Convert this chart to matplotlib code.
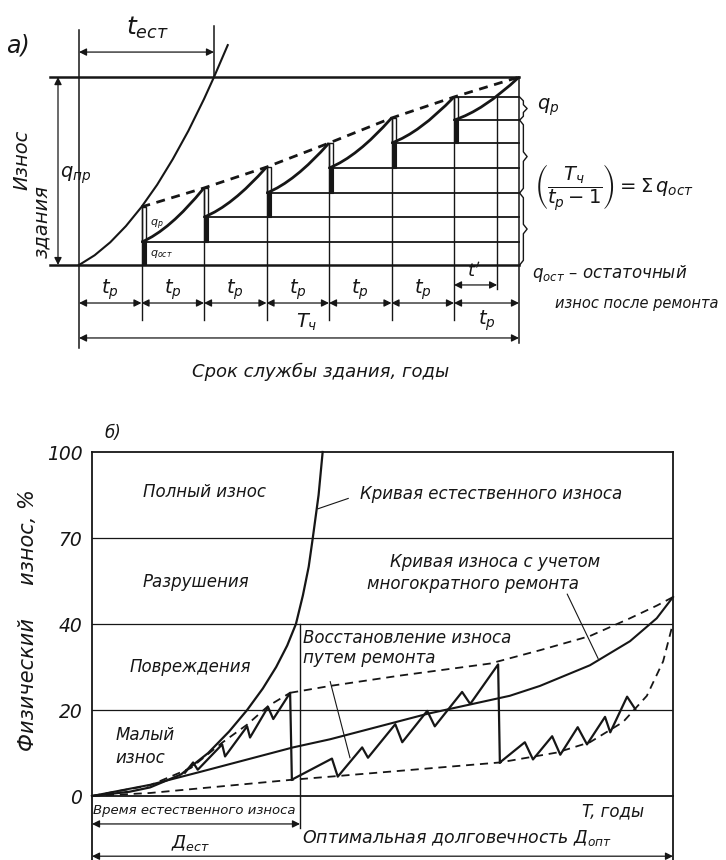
import numpy as np
import matplotlib
matplotlib.use("Agg")
import matplotlib.pyplot as plt
from matplotlib.patches import PathPatch, Rectangle
from matplotlib.path import Path

plt.rcParams['font.family'] = ['DejaVu Sans']
plt.rcParams['mathtext.fontset'] = 'dejavusans'
INK = '#161616'
TXT = dict(family=['DejaVu Sans'], style='oblique', color=INK)

# ---------- panel a: time in units of t_p, wear in % of q_пр ----------
REPAIR_T = [1, 2, 3, 4, 5, 6]
T_END = 7.04
T_PRIME = 6.69
T_EST = 2.16
LEVELS = [0, 12.2, 25.5, 38.3, 51.6, 64.9, 77.1]      # residual wear after each repair
PEAKS = [30.9, 41.0, 52.1, 64.9, 78.2, 89.4, 100.0]    # wear just before repair
CTRL_T = [1.45, 2.45, 3.45, 4.45, 5.45, 6.47]          # shape of the wear curve between repairs
CTRL_Q = [18.5, 31.4, 44.2, 57.5, 70.3, 82.1]
NAT_A_T = [0, 0.25, 0.5, 0.75, 1.0, 1.25, 1.5, 1.75, 2.0, 2.16, 2.38]
NAT_A_Q = [0, 5.2, 12.1, 20.7, 30.9, 42.7, 56.3, 71.4, 88.3, 100, 117]

# ---------- panel b: T in % of Д_опт, wear in % ----------
NAT_T = [0, 6.5, 10, 15.3, 20.0, 23.6, 26.7, 29.4, 31.7, 33.6, 35.1, 36.3, 37.3, 38.0, 39.0, 39.7]
NAT_W = [0, 1, 2, 5, 10, 15, 20, 25, 30, 35, 40, 50, 60, 70, 85, 100]
REP_T = [0, 10, 18.6, 34.6, 41.0, 57.7, 71.9, 77.1, 85.7, 92.6, 97.2, 100]
REP_W = [0, 2.6, 5.6, 11.3, 13.2, 19.1, 23.3, 25.6, 30.4, 36.0, 42.0, 49.4]
FIRST_T = [0, 10, 17, 22.4, 26.7, 30.3, 34.1]
FIRST_W = [0, 2.5, 6.5, 12.4, 16.6, 20.9, 24.0]
UP_T = [34.1, 41.0, 53.0, 68.5, 77.1, 85.7, 92.6, 97.2, 100]
UP_W = [24.0, 25.6, 28.0, 30.8, 33.9, 37.2, 42.0, 46.4, 49.4]
LOW_T = [0, 10, 34.6, 41.0, 70.2, 80.0, 85.7, 91.4, 95.5, 98.3, 100]
LOW_W = [0, 0.7, 3.8, 4.5, 7.8, 10.1, 12.5, 17.2, 23.3, 31.3, 40.3]
ZIG1_T = [16.0, 17.4, 18.2, 22.4, 22.9, 26.7, 27.2, 30.3, 31.2, 34.1, 34.4]
ZIG1_W = [5.4, 7.8, 6.1, 12.0, 9.2, 16.2, 13.6, 20.7, 17.9, 24.0, 3.8]
ZIG2_T = [34.4, 41.3, 42.3, 46.5, 47.5, 52.2, 53.4, 57.7, 59.0, 63.7, 65.1, 69.9, 70.2]
ZIG2_W = [3.8, 8.7, 4.5, 11.3, 8.9, 16.7, 12.5, 19.8, 16.2, 24.2, 21.4, 30.6, 7.8]
ZIG3_T = [70.2, 74.5, 75.9, 79.2, 80.6, 83.6, 85.2, 88.3, 89.2, 92.1, 93.5]
ZIG3_W = [7.8, 12.5, 8.5, 13.9, 9.6, 16.0, 12.0, 18.4, 14.8, 23.1, 20.2]
U_EST = 35.8
Y_TICKS = [0, 20, 40, 70, 100]
ZONES = ['Малый\nизнос', 'Повреждения', 'Разрушения', 'Полный износ']


def dim(ax, x0, x1, y, vertical=False):
    a, b = ((y, x0), (y, x1)) if vertical else ((x0, y), (x1, y))
    ax.annotate('', xy=b, xytext=a, annotation_clip=False,
                arrowprops=dict(arrowstyle='<|-|>', color=INK, lw=0.9,
                                mutation_scale=11, shrinkA=0, shrinkB=0))


def brace(ax, x, q0, q1, w=0.06):
    qm = (q0 + q1) / 2
    d = min(2.5, (q1 - q0) / 6)
    ax.plot([x, x + w, x + w, x + 2 * w, x + w, x + w, x],
            [q0, q0 + d, qm - d, qm, qm + d, q1 - d, q1], color=INK, lw=1)


fig = plt.figure(figsize=(7.26, 8.6), dpi=100)

# ======================= panel a =======================
ax = fig.add_axes([0, 1 - 400 / 860, 1, 400 / 860])
ax.set_xlim(-1.264, 10.352)
ax.set_ylim(-71.8, 141.0)
ax.axis('off')

ax.plot([-0.46, T_END], [100, 100], color=INK, lw=1.8)
ax.plot([-0.46, T_END], [0, 0], color=INK, lw=1.8)
ax.plot([0, 0], [-44, 125], color=INK, lw=1.1)
ax.plot([T_END, T_END], [-41.5, 100], color=INK, lw=1.1)
ax.plot([T_EST, T_EST], [100, 127], color=INK, lw=1.1)
ax.plot(NAT_A_T, NAT_A_Q, color=INK, lw=1.5)

ends = REPAIR_T[1:] + [T_END]
for i, t in enumerate(REPAIR_T):
    path = Path([(t, LEVELS[i + 1]), (CTRL_T[i], CTRL_Q[i]), (ends[i], PEAKS[i + 1])],
                [Path.MOVETO, Path.CURVE3, Path.CURVE3])
    ax.add_patch(PathPatch(path, fill=False, lw=2.0, ec=INK))
    ax.plot([t, t], [-29.3, PEAKS[i]], color=INK, lw=1.0)
    ax.add_patch(Rectangle((t, LEVELS[i]), 0.07, LEVELS[i + 1] - LEVELS[i], fc=INK, ec=INK, lw=0.8))
    ax.add_patch(Rectangle((t, LEVELS[i + 1]), 0.07, PEAKS[i] - LEVELS[i + 1], fill=False, ec=INK, lw=1.0))
    ax.plot([t, T_END], [LEVELS[i + 1]] * 2, color=INK, lw=1.3)
ax.plot([REPAIR_T[-1], T_END], [PEAKS[-2]] * 2, color=INK, lw=1.3)
ax.plot(REPAIR_T + [T_END], PEAKS, color=INK, lw=2.0, ls=(0, (3.2, 2.4)))
ax.plot([T_PRIME, T_PRIME], [-13, PEAKS[-2]], color=INK, lw=1.0)

# dimension lines
for a, b in zip([0] + REPAIR_T, REPAIR_T + [T_END]):
    dim(ax, a, b, -20.2)
for i in range(6):
    ax.text(i + 0.5, -13.3, r'$t_р$', fontsize=14, ha='center', va='center', color=INK)
ax.text(6.52, -29.5, r'$t_р$', fontsize=14, ha='center', va='center', color=INK)
dim(ax, REPAIR_T[-1], T_PRIME, -10.6)
ax.text(6.32, -3.2, r"$t'$", fontsize=13, ha='center', va='center', color=INK)
ax.text(3.65, -30.5, r'$T_ч$', fontsize=14, ha='center', va='center', color=INK)
dim(ax, 0, T_END, -38.8)
ax.text(3.86, -57, 'Срок службы здания, годы', fontsize=13, ha='center', va='center', **TXT)

dim(ax, 0, T_EST, 113.3)
ax.text(1.1, 126, r'$t_{ест}$', fontsize=18, ha='center', va='center', color=INK)
dim(ax, 0, 100, -0.336, vertical=True)
ax.text(-0.31, 48, r'$q_{пр}$', fontsize=14, ha='left', va='center', color=INK)
ax.text(-0.98, 117, 'а)', fontsize=17, ha='center', va='center', **TXT)
ax.text(-0.91, 56, 'Износ', fontsize=14, rotation=90, ha='center', va='center', **TXT)
ax.text(-0.59, 23, 'здания', fontsize=14, rotation=90, ha='center', va='center', **TXT)
ax.text(1.13, 21.5, r'$q_р$', fontsize=8, ha='left', va='center', color=INK)
ax.text(1.13, 6, r'$q_{ост}$', fontsize=8, ha='left', va='center', color=INK)

brace(ax, T_END + 0.01, LEVELS[-1], PEAKS[-2])
brace(ax, T_END + 0.01, LEVELS[3], LEVELS[-1])
brace(ax, T_END + 0.01, LEVELS[0], LEVELS[3])
ax.text(7.33, 84, r'$q_р$', fontsize=14, ha='left', va='center', color=INK)
ax.text(7.28, 41, r'$\left(\dfrac{T_ч}{t_р-1}\right)=\Sigma\,q_{ост}$', fontsize=14,
        ha='left', va='center', color=INK)
ax.text(7.25, -4.5, r'$q_{ост}$' + ' – остаточный', fontsize=12, ha='left', va='center', **TXT)
ax.text(7.62, -20.5, 'износ после ремонта', fontsize=10.5, ha='left', va='center', **TXT)

# ======================= panel b =======================
BAND_P = [-100, 0, 20, 40, 70, 100, 200]
BAND_B = [-5, 0, 1, 2, 3, 4, 7.3333]


def fwd(v):
    return np.interp(v, BAND_P, BAND_B)


def inv(b):
    return np.interp(b, BAND_B, BAND_P)


axb = fig.add_axes([92 / 726, 1 - 796 / 860, 581 / 726, 344 / 860])
axb.set_yscale('function', functions=(fwd, inv))
axb.set_xlim(0, 100)
axb.set_ylim(0, 100)
for s in axb.spines.values():
    s.set_linewidth(1.3)
    s.set_color(INK)
axb.set_xticks([])
axb.set_yticks(Y_TICKS)
axb.set_yticklabels([str(v) for v in Y_TICKS], fontsize=13.5, **TXT)
axb.tick_params(axis='y', length=0, pad=7)
for v in Y_TICKS[1:-1]:
    axb.axhline(v, color=INK, lw=0.9)

axb.plot(NAT_T, NAT_W, color=INK, lw=1.6, clip_on=False)
axb.plot(REP_T, REP_W, color=INK, lw=1.5, clip_on=False)
dash = dict(color=INK, lw=1.3, ls=(0, (4.5, 3.2)), clip_on=False)
axb.plot(FIRST_T, FIRST_W, **dash)
axb.plot(UP_T, UP_W, **dash)
axb.plot(LOW_T, LOW_W, **dash)
for zt, zw in [(ZIG1_T, ZIG1_W), (ZIG2_T, ZIG2_W), (ZIG3_T, ZIG3_W)]:
    axb.plot(zt, zw, color=INK, lw=1.6, clip_on=False)

axb.plot([U_EST, U_EST], [-7.4, 40], color=INK, lw=1.0, clip_on=False)
axb.plot([0, 0], [-14.9, 0], color=INK, lw=1.3, clip_on=False)
axb.plot([100, 100], [-14.9, 0], color=INK, lw=1.3, clip_on=False)
dim(axb, 0, U_EST, -6.5)
dim(axb, 0, 100, -14.0)

# leaders
axb.plot([44.1, 38.9], [83.8, 80.2], color=INK, lw=0.8)
axb.plot([81.8, 87.1], [50.4, 32.0], color=INK, lw=0.8)
axb.plot([41.0, 44.4], [26.6, 8.9], color=INK, lw=0.8)

axb.text(4.0, 11.5, ZONES[0], fontsize=12, ha='left', va='center', linespacing=1.3, **TXT)
axb.text(16.9, 30.1, ZONES[1], fontsize=12, ha='center', va='center', **TXT)
axb.text(17.9, 54.8, ZONES[2], fontsize=12, ha='center', va='center', **TXT)
axb.text(19.4, 86.2, ZONES[3], fontsize=12, ha='center', va='center', **TXT)
axb.text(68.7, 85.5, 'Кривая естественного износа', fontsize=12, ha='center', va='center', **TXT)
axb.text(69.4, 61.6, 'Кривая износа с учетом', fontsize=12, ha='center', va='center', **TXT)
axb.text(65.6, 53.8, 'многократного ремонта', fontsize=12, ha='center', va='center', **TXT)
axb.text(36.3, 36.7, 'Восстановление износа', fontsize=12, ha='left', va='center', **TXT)
axb.text(36.3, 32.0, 'путем ремонта', fontsize=12, ha='left', va='center', **TXT)
axb.text(3.6, 106.5, 'б)', fontsize=12, ha='center', va='center', **TXT)
axb.text(17.6, -3.3, 'Время естественного износа', fontsize=9.5, ha='center', va='center', **TXT)
axb.text(89.7, -3.5, 'T, годы', fontsize=12, ha='center', va='center', **TXT)
axb.text(16.9, -10.9, 'Д$_{ест}$', fontsize=13, ha='center', va='center', **TXT)
axb.text(62.8, -9.8, 'Оптимальная долговечность Д$_{опт}$', fontsize=12.5, ha='center', va='center', **TXT)
fig.text(28 / 726, 1 - 620 / 860, 'Физический     износ, %', fontsize=15, rotation=90,
         ha='center', va='center', **TXT)

fig.savefig('out.png', dpi=100, facecolor='white')
